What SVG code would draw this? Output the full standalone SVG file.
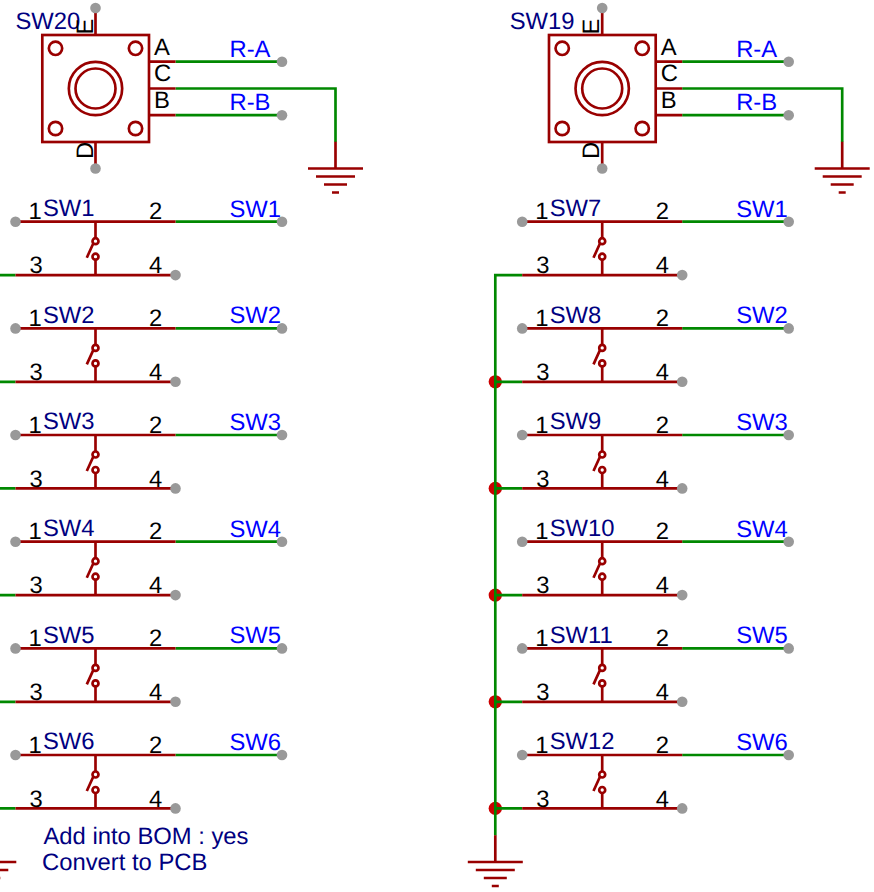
<svg xmlns="http://www.w3.org/2000/svg" width="874" height="892" viewBox="0 0 874 892">
<style>
text{font-family:"Liberation Sans",Arial,sans-serif;font-size:23.8px;text-rendering:geometricPrecision}
.pin{fill:#000}
.name{fill:#000080}
.net{fill:#0000ff}
.r{stroke:#990000;stroke-width:2.67;fill:none}
.w{stroke:#008800;stroke-width:2.67;fill:none}
.p{fill:#999999}
.j{fill:#cc0000}
</style>
<defs>
<g id="swbody">
<path class="r" d="M15.5 0H175.5M15.5 53.4H175.5M95.5 0V16.5M95.5 38V53.4M86.8 36L93.6 21"/>
<circle class="r" cx="95.5" cy="19.5" r="3"/>
<circle class="r" cx="95.5" cy="35" r="3"/>
<circle class="p" cx="15.5" cy="0" r="5.3"/>
<circle class="p" cx="175.5" cy="53.4" r="5.3"/>
</g>
<g id="gnd">
<path class="r" d="M0 -26.7V0M-27.5 0H27.5M-19.5 8H19.5M-11.5 16H11.5M-3.5 24H3.5"/>
</g>
<g id="tact">
<rect class="r" x="42.3" y="35" width="106.7" height="107"/>
<circle class="r" cx="55.5" cy="48.3" r="6.67"/>
<circle class="r" cx="135.5" cy="48.3" r="6.67"/>
<circle class="r" cx="55.5" cy="128.5" r="6.67"/>
<circle class="r" cx="135.5" cy="128.5" r="6.67"/>
<circle class="r" cx="95.5" cy="88.5" r="26.67"/>
<circle class="r" cx="95.5" cy="88.5" r="20"/>
<path class="r" d="M95.5 8.5V35M95.5 142V168.5M149 61.7H175.5M149 88.5H175.5M149 115.2H175.5"/>
<circle class="p" cx="95.5" cy="8" r="5.3"/>
<circle class="p" cx="95.5" cy="168.5" r="5.3"/>
</g>
</defs>
<g id="connectors">
<path class="w" d="M175.5 61.7H282M175.5 88.5H335.5V142M175.5 115.2H282"/>
<path class="w" d="M682.2 61.7H788.7M682.2 88.5H842.2V142M682.2 115.2H788.7"/>
<path class="w" d="M175.5 221.7H282M175.5 328.4H282M175.5 435H282M175.5 541.7H282M175.5 648.4H282M175.5 755H282"/>
<path class="w" d="M682.2 221.7H788.7M682.2 328.4H788.7M682.2 435H788.7M682.2 541.7H788.7M682.2 648.4H788.7M682.2 755H788.7"/>
<path class="w" d="M0 275.1H15.5M0 381.8H15.5M0 488.4H15.5M0 595.1H15.5M0 701.8H15.5M0 808.4H15.5"/>
<circle class="j" cx="495.3" cy="381.8" r="6.67"/>
<circle class="j" cx="495.3" cy="488.4" r="6.67"/>
<circle class="j" cx="495.3" cy="595.1" r="6.67"/>
<circle class="j" cx="495.3" cy="701.8" r="6.67"/>
<circle class="j" cx="495.3" cy="808.4" r="6.67"/>
<path class="w" d="M495.3 835.5V275.1H522.2M495.3 381.8H522.2M495.3 488.4H522.2M495.3 595.1H522.2M495.3 701.8H522.2M495.3 808.4H522.2"/>
</g>
<g id="netlabels">
<circle class="p" cx="282" cy="61.7" r="5.3"/><circle class="p" cx="282" cy="115.2" r="5.3"/>
<circle class="p" cx="788.7" cy="61.7" r="5.3"/><circle class="p" cx="788.7" cy="115.2" r="5.3"/>
<text class="net" x="229.5" y="56.5">R-A</text><text class="net" x="229.5" y="109.5">R-B</text>
<text class="net" x="736.2" y="56.5">R-A</text><text class="net" x="736.2" y="109.5">R-B</text>
</g>
<g id="gnd-top-left"><use href="#gnd" x="335.5" y="168.5"/></g>
<g id="gnd-top-right"><use href="#gnd" x="842.2" y="168.5"/></g>
<g id="gnd-bottom-left"><use href="#gnd" x="-11.2" y="862"/></g>
<g id="gnd-bottom-right"><use href="#gnd" x="495.3" y="862"/></g>
<g id="SW20"><use href="#tact"/>
<text class="name" x="15.5" y="29">SW20</text>
<text class="pin" transform="translate(92.5 34.5) rotate(-90)">E</text>
<text class="pin" transform="translate(92.5 159) rotate(-90)">D</text>
<text class="pin" x="154" y="54.5">A</text><text class="pin" x="154" y="81">C</text><text class="pin" x="154" y="108">B</text>
</g>
<g id="SW19" transform="translate(506.7 0)"><use href="#tact"/>
<text class="name" x="3" y="29">SW19</text>
<text class="pin" transform="translate(92.5 34.5) rotate(-90)">E</text>
<text class="pin" transform="translate(92.5 159) rotate(-90)">D</text>
<text class="pin" x="154" y="54.5">A</text><text class="pin" x="154" y="81">C</text><text class="pin" x="154" y="108">B</text>
</g>
<g id="SW1" transform="translate(0 221.7)"><use href="#swbody"/><text class="pin" x="28.5" y="-2.5">1</text><text class="name" x="43" y="-5.7">SW1</text><text class="pin" x="149" y="-2.5">2</text><text class="net" x="229.5" y="-5">SW1</text><text class="pin" x="29.5" y="51.5">3</text><text class="pin" x="149" y="51.5">4</text><circle class="p" cx="282" cy="0" r="5.3"/></g>
<g id="SW2" transform="translate(0 328.4)"><use href="#swbody"/><text class="pin" x="28.5" y="-2.5">1</text><text class="name" x="43" y="-5.7">SW2</text><text class="pin" x="149" y="-2.5">2</text><text class="net" x="229.5" y="-5">SW2</text><text class="pin" x="29.5" y="51.5">3</text><text class="pin" x="149" y="51.5">4</text><circle class="p" cx="282" cy="0" r="5.3"/></g>
<g id="SW3" transform="translate(0 435)"><use href="#swbody"/><text class="pin" x="28.5" y="-2.5">1</text><text class="name" x="43" y="-5.7">SW3</text><text class="pin" x="149" y="-2.5">2</text><text class="net" x="229.5" y="-5">SW3</text><text class="pin" x="29.5" y="51.5">3</text><text class="pin" x="149" y="51.5">4</text><circle class="p" cx="282" cy="0" r="5.3"/></g>
<g id="SW4" transform="translate(0 541.7)"><use href="#swbody"/><text class="pin" x="28.5" y="-2.5">1</text><text class="name" x="43" y="-5.7">SW4</text><text class="pin" x="149" y="-2.5">2</text><text class="net" x="229.5" y="-5">SW4</text><text class="pin" x="29.5" y="51.5">3</text><text class="pin" x="149" y="51.5">4</text><circle class="p" cx="282" cy="0" r="5.3"/></g>
<g id="SW5" transform="translate(0 648.4)"><use href="#swbody"/><text class="pin" x="28.5" y="-2.5">1</text><text class="name" x="43" y="-5.7">SW5</text><text class="pin" x="149" y="-2.5">2</text><text class="net" x="229.5" y="-5">SW5</text><text class="pin" x="29.5" y="51.5">3</text><text class="pin" x="149" y="51.5">4</text><circle class="p" cx="282" cy="0" r="5.3"/></g>
<g id="SW6" transform="translate(0 755)"><use href="#swbody"/><text class="pin" x="28.5" y="-2.5">1</text><text class="name" x="43" y="-5.7">SW6</text><text class="pin" x="149" y="-2.5">2</text><text class="net" x="229.5" y="-5">SW6</text><text class="pin" x="29.5" y="51.5">3</text><text class="pin" x="149" y="51.5">4</text><circle class="p" cx="282" cy="0" r="5.3"/></g>
<g id="SW7" transform="translate(506.7 221.7)"><use href="#swbody"/><text class="pin" x="28.5" y="-2.5">1</text><text class="name" x="43" y="-5.7">SW7</text><text class="pin" x="149" y="-2.5">2</text><text class="net" x="229.5" y="-5">SW1</text><text class="pin" x="29.5" y="51.5">3</text><text class="pin" x="149" y="51.5">4</text><circle class="p" cx="282" cy="0" r="5.3"/></g>
<g id="SW8" transform="translate(506.7 328.4)"><use href="#swbody"/><text class="pin" x="28.5" y="-2.5">1</text><text class="name" x="43" y="-5.7">SW8</text><text class="pin" x="149" y="-2.5">2</text><text class="net" x="229.5" y="-5">SW2</text><text class="pin" x="29.5" y="51.5">3</text><text class="pin" x="149" y="51.5">4</text><circle class="p" cx="282" cy="0" r="5.3"/></g>
<g id="SW9" transform="translate(506.7 435)"><use href="#swbody"/><text class="pin" x="28.5" y="-2.5">1</text><text class="name" x="43" y="-5.7">SW9</text><text class="pin" x="149" y="-2.5">2</text><text class="net" x="229.5" y="-5">SW3</text><text class="pin" x="29.5" y="51.5">3</text><text class="pin" x="149" y="51.5">4</text><circle class="p" cx="282" cy="0" r="5.3"/></g>
<g id="SW10" transform="translate(506.7 541.7)"><use href="#swbody"/><text class="pin" x="28.5" y="-2.5">1</text><text class="name" x="43" y="-5.7">SW10</text><text class="pin" x="149" y="-2.5">2</text><text class="net" x="229.5" y="-5">SW4</text><text class="pin" x="29.5" y="51.5">3</text><text class="pin" x="149" y="51.5">4</text><circle class="p" cx="282" cy="0" r="5.3"/></g>
<g id="SW11" transform="translate(506.7 648.4)"><use href="#swbody"/><text class="pin" x="28.5" y="-2.5">1</text><text class="name" x="43" y="-5.7">SW11</text><text class="pin" x="149" y="-2.5">2</text><text class="net" x="229.5" y="-5">SW5</text><text class="pin" x="29.5" y="51.5">3</text><text class="pin" x="149" y="51.5">4</text><circle class="p" cx="282" cy="0" r="5.3"/></g>
<g id="SW12" transform="translate(506.7 755)"><use href="#swbody"/><text class="pin" x="28.5" y="-2.5">1</text><text class="name" x="43" y="-5.7">SW12</text><text class="pin" x="149" y="-2.5">2</text><text class="net" x="229.5" y="-5">SW6</text><text class="pin" x="29.5" y="51.5">3</text><text class="pin" x="149" y="51.5">4</text><circle class="p" cx="282" cy="0" r="5.3"/></g>
<g id="notes">
<text class="name" x="43.5" y="844">Add into BOM : yes</text>
<text class="name" x="42" y="870">Convert to PCB</text>
</g>
</svg>
